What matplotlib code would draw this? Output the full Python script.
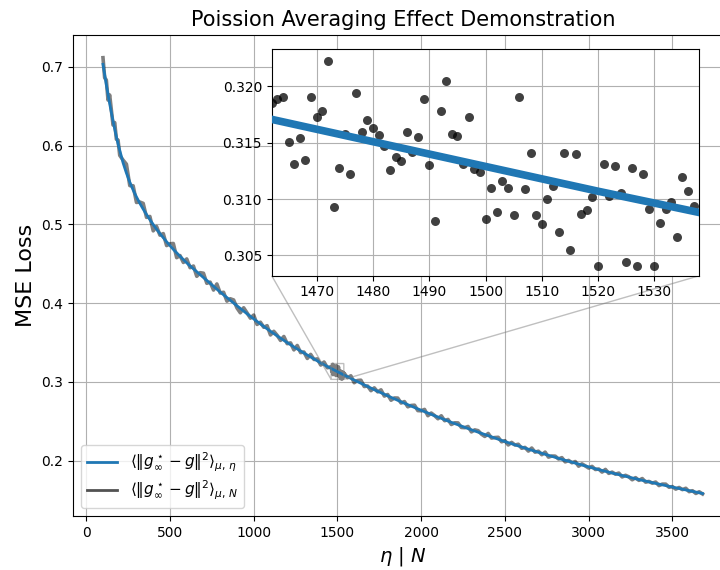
import numpy as np
import matplotlib.pyplot as plt

# ---- eta-averaged curve (smooth) ----
n_grid = [100, 110, 120, 130, 140, 150, 160, 170, 180, 190, 200] + list(range(220, 3681, 20))
mse_eta = [
    0.703, 0.690, 0.677, 0.665, 0.653, 0.642, 0.631, 0.621, 0.611, 0.602, 0.594,
    0.5780, 0.5650, 0.5535, 0.5435, 0.5347, 0.5267, 0.5193, 0.5124, 0.5059, 0.4997,
    0.4938, 0.4882, 0.4829, 0.4778, 0.4729, 0.4682, 0.4637, 0.4594, 0.4552, 0.4511,
    0.4472, 0.4435, 0.4397, 0.4360, 0.4323, 0.4286, 0.4249, 0.4212, 0.4176, 0.4140,
    0.4105, 0.4070, 0.4035, 0.4000, 0.3966, 0.3932, 0.3898, 0.3865, 0.3832, 0.3799,
    0.3767, 0.3735, 0.3704, 0.3673, 0.3643, 0.3613, 0.3584, 0.3555, 0.3527, 0.3499,
    0.3471, 0.3444, 0.3418, 0.3392, 0.3366, 0.3341, 0.3316, 0.3291, 0.3266, 0.3240,
    0.3217, 0.3195, 0.3173, 0.3151, 0.3129, 0.3107, 0.3086, 0.3065, 0.3044, 0.3023,
    0.3003, 0.2983, 0.2962, 0.2942, 0.2921, 0.2901, 0.2882, 0.2862, 0.2843, 0.2823,
    0.2804, 0.2785, 0.2767, 0.2748, 0.2729, 0.2711, 0.2693, 0.2675, 0.2657, 0.2639,
    0.2622, 0.2605, 0.2587, 0.2570, 0.2553, 0.2537, 0.2520, 0.2504, 0.2487, 0.2471,
    0.2455, 0.2439, 0.2424, 0.2408, 0.2392, 0.2377, 0.2362, 0.2346, 0.2331, 0.2316,
    0.2301, 0.2287, 0.2272, 0.2258, 0.2243, 0.2229, 0.2215, 0.2201, 0.2187, 0.2173,
    0.2160, 0.2146, 0.2133, 0.2119, 0.2106, 0.2093, 0.2080, 0.2068, 0.2055, 0.2042,
    0.2030, 0.2017, 0.2005, 0.1992, 0.1980, 0.1968, 0.1956, 0.1944, 0.1932, 0.1920,
    0.1909, 0.1898, 0.1887, 0.1876, 0.1865, 0.1854, 0.1844, 0.1833, 0.1823, 0.1812,
    0.1802, 0.1792, 0.1781, 0.1771, 0.1761, 0.1751, 0.1742, 0.1732, 0.1722, 0.1712,
    0.1703, 0.1693, 0.1684, 0.1675, 0.1665, 0.1656, 0.1647, 0.1638, 0.1629, 0.1620,
    0.1611, 0.1602, 0.1593, 0.1584,
]

# ---- N-averaged curve: relative deviation (%) from the eta curve ----
dev_pct = [
    1.2, -0.6, 0.9, -1.1, 1.7, 0.4, -0.8, 1.3, -0.5, 0.8, -1.1,
    0.6, 2.0, -0.8, 1.0, -1.3, 0.3, 1.4, -0.7, 0.8, -1.6,
    0.7, -0.4, 1.1, -1.0, 0.5, 1.6, -1.3, 0.2, -0.8, 1.1,
    -0.5, 0.8, -1.3, 0.6, 1.3, -0.8, 0.4, -1.1, 1.6, -0.3,
    0.8, -1.1, 0.5, 1.0, -0.7, -1.4, 1.1, 0.3, -0.6, 1.3,
    -1.0, 0.6, -0.3, 1.1, -1.3, 0.8, 0.2, -0.8, 1.4, -0.4,
    0.7, -1.1, 1.3, -0.6, 0.4, -1.3, 1.0, -0.2, 0.8, -0.8,
    1.1, -0.5, 0.6, -0.8, 0.3, -1.0, 0.8, -0.4, 1.1, -1.1,
    0.5, 1.3, -0.7, 0.2, -1.1, 0.8, -0.3, 1.3, -0.8, 0.6,
    -1.3, 0.4, 1.0, -0.6, 0.8, -1.0, 0.3, 1.1, -0.8, -0.2,
    1.1, -1.3, 0.7, 0.1, -0.8, 1.3, -0.5, 0.8, -1.1, 0.4,
    1.0, -0.7, -0.2, 1.1, -1.1, 0.6, 0.8, -0.4, -1.0, 1.3,
    -0.6, 0.3, 1.1, -0.8, 0.5, -1.3, 0.8, -0.1, 1.0, -0.7,
    0.4, -1.1, 1.3, -0.5, 0.7, -0.8, 1.4, -1.1, 0.2, 0.8,
    -0.4, 1.1, -1.0, 0.6, -0.3, 1.1, -1.3, 0.8, 0.1, -0.7,
    1.0, -0.5, 0.4, -1.1, 1.3, -0.8, 0.6, -0.2, 1.1, -1.0,
    0.7, 0.2, -1.3, 0.8, -0.6, 1.3, -0.8, 0.3, -0.4, 1.0,
    -1.1, 0.6, 1.1, -0.7, 0.4, -1.0, 0.8, -0.3, 1.3, -0.8,
    0.5, -1.1, 0.8, -0.4,
]

# ---- zoomed window: individual N-averaged points, N = 1462 ... 1537 ----
inset_n = list(range(1462, 1538))
inset_mse = [
    0.3185, 0.3189, 0.3191, 0.3151, 0.3131, 0.3154, 0.3135, 0.3191, 0.3173, 0.3178,
    0.3223, 0.3093, 0.3128, 0.3158, 0.3122, 0.3194, 0.3160, 0.3170, 0.3163, 0.3157,
    0.3147, 0.3126, 0.3137, 0.3134, 0.3160, 0.3142, 0.3155, 0.3189, 0.3130, 0.3081,
    0.3178, 0.3205, 0.3158, 0.3156, 0.3131, 0.3173, 0.3127, 0.3124, 0.3082, 0.3110,
    0.3089, 0.3116, 0.3110, 0.3086, 0.3191, 0.3109, 0.3141, 0.3086, 0.3078, 0.3100,
    0.3112, 0.3071, 0.3141, 0.3055, 0.3140, 0.3087, 0.3090, 0.3102, 0.3041, 0.3131,
    0.3103, 0.3129, 0.3105, 0.3044, 0.3128, 0.3041, 0.3122, 0.3091, 0.3041, 0.3079,
    0.3091, 0.3097, 0.3066, 0.3120, 0.3107, 0.3094,
]

n_grid = np.array(n_grid)
mse_eta = np.array(mse_eta)
mse_n = mse_eta * (1 + np.array(dev_pct) / 100)

# merge the dense window points into the N-averaged line
keep = (n_grid < inset_n[0]) | (n_grid > inset_n[-1])
gray_n = np.concatenate([n_grid[keep], inset_n])
gray_v = np.concatenate([mse_n[keep], inset_mse])
order = np.argsort(gray_n)
gray_n, gray_v = gray_n[order], gray_v[order]

fig = plt.figure(figsize=(7.2, 5.7), dpi=100)
ax = fig.add_axes([0.1014, 0.0947, 0.916, 0.8444])

ax.plot(n_grid, mse_eta, color='tab:blue', lw=2, zorder=3,
        label=r'$\langle \| g^\star_\infty - g \|^2 \rangle_{\mu,\,\eta}$')
ax.plot(gray_n, gray_v, color='k', alpha=0.5, lw=2.6, zorder=2,
        label=r'$\langle \| g^\star_\infty - g \|^2 \rangle_{\mu,\,N}$')

ax.set_xlim(-79, 3859)
ax.set_ylim(0.1298, 0.7406)
ax.grid(True, color='#b0b0b0', lw=0.8)
ax.tick_params(labelsize=10)
ax.set_xlabel(r'$\eta$ | $N$', fontsize=14)
ax.set_ylabel('MSE Loss', fontsize=16)
ax.set_title('Poission Averaging Effect Demonstration', fontsize=15)
leg = ax.legend(loc='lower left', fontsize=11, labelspacing=0.3)
for h in leg.get_lines():
    h.set_linewidth(2)
leg.get_lines()[1].set_alpha(0.68)

# ---- inset ----
axins = fig.add_axes([0.3774, 0.5163, 0.5939, 0.3972])
axins.plot(n_grid, mse_eta, color='tab:blue', lw=5.5, zorder=3, solid_capstyle='butt')
axins.scatter(inset_n, inset_mse, s=42, color='k', alpha=0.75, zorder=2, linewidths=0)
axins.set_xlim(1462, 1538)
axins.set_ylim(0.3032, 0.3233)
axins.set_xticks([1470, 1480, 1490, 1500, 1510, 1520, 1530])
axins.set_yticks([0.305, 0.310, 0.315, 0.320])
axins.grid(True, color='#b0b0b0', lw=0.8)
axins.tick_params(labelsize=10)
ind = ax.indicate_inset_zoom(axins, edgecolor='0.5')
# connectors: lower-left, upper-left, lower-right, upper-right
for con, vis in zip(ind.connectors, [True, False, True, False]):
    con.set_visible(vis)

fig.savefig('out.png', dpi=100)
